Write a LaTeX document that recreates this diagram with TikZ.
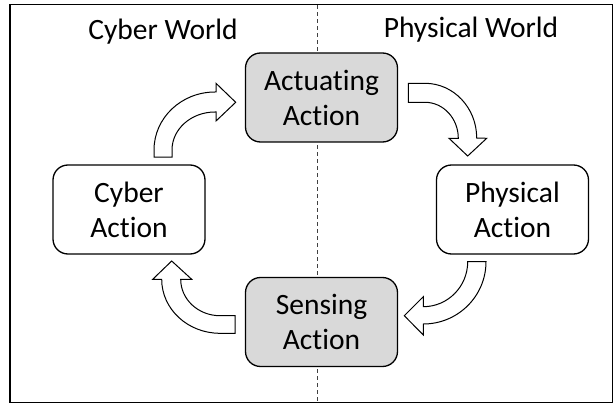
\documentclass[tikz,border=0pt]{standalone}
\usepackage{fontspec}
\setmainfont{Carlito}[Ligatures={NoCommon}]
\definecolor{boxgray}{HTML}{D9D9D9}
\begin{document}
\begin{tikzpicture}[x=1pt,y=-1pt,
  txt/.style={font=\fontsize{29.5}{35}\selectfont, inner sep=0pt},
  actbox/.style={draw=black, line width=1.3pt, rounded corners=15pt, minimum width=152pt, minimum height=89pt, align=center, inner sep=0pt, font=\fontsize{29.5}{35}\selectfont},
  graybox/.style={actbox, fill=boxgray},
  whitebox/.style={actbox, fill=white},
  blockarrow/.style={draw=black, fill=white, line width=1pt, line join=miter},
  divider/.style={draw=black!75, line width=0.9pt, dash pattern=on 4pt off 3pt}
]
\useasboundingbox (0,0) rectangle (614,404);
% frame
\draw[line width=1.6pt] (10,4.5) rectangle (612.5,402.3);
% divider
\coordinate (dtop) at (317.3,5.3);
\coordinate (dbot) at (317.3,401.5);
\draw[divider] (dtop) -- (dbot);
% titles
\node[txt, anchor=base] (cw) at (163,40) {Cyber World};
\node[txt, anchor=base] (pw) at (471,37.3) {Physical World};
% boxes
\node[graybox] (act) at (321.5,97.5) {Actuating\\Action};
\node[whitebox] (cyb) at (129,209.5) {Cyber\\Action};
\node[whitebox] (phy) at (512.5,209.5) {Physical\\Action};
\node[graybox] (sen) at (321.5,322) {Sensing\\Action};
% arrow cyber -> actuating
\draw[blockarrow] (154,157) -- (154,150)
  arc[start angle=180,end angle=270,x radius=61,y radius=58]
  -- (216,92) -- (216,83.3) -- (235.7,102.3) -- (216,121) -- (216,112) -- (215,112)
  arc[start angle=270,end angle=180,x radius=43,y radius=38]
  -- (172,157) -- cycle;
% arrow actuating -> physical
\draw[blockarrow] (408.3,83.3) -- (425,83.3)
  arc[start angle=270,end angle=360,x radius=51.7,y radius=54.7]
  -- (486.7,138.3) -- (467.7,156) -- (449,138.3) -- (458.3,138.3)
  arc[start angle=0,end angle=-90,x radius=33.3,y radius=36]
  -- (408.3,102.3) -- cycle;
% arrow physical -> sensing
\draw[blockarrow] (486,261.7)
  arc[start angle=0,end angle=90,x radius=62.7,y radius=62.3]
  -- (423.3,335) -- (404.3,315.7) -- (423.3,296.7) -- (423.3,306.7)
  arc[start angle=90,end angle=0,x radius=44.4,y radius=45]
  -- cycle;
% arrow sensing -> cyber
\draw[blockarrow] (235,333.3) -- (220,333.3)
  arc[start angle=90,end angle=180,x radius=58.3,y radius=54]
  -- (152.7,279.3) -- (171.7,261) -- (191.7,279.3) -- (180.7,279.3)
  arc[start angle=180,end angle=90,x radius=39.3,y radius=36.4]
  -- (235,315.7) -- cycle;
\end{tikzpicture}
\end{document}
